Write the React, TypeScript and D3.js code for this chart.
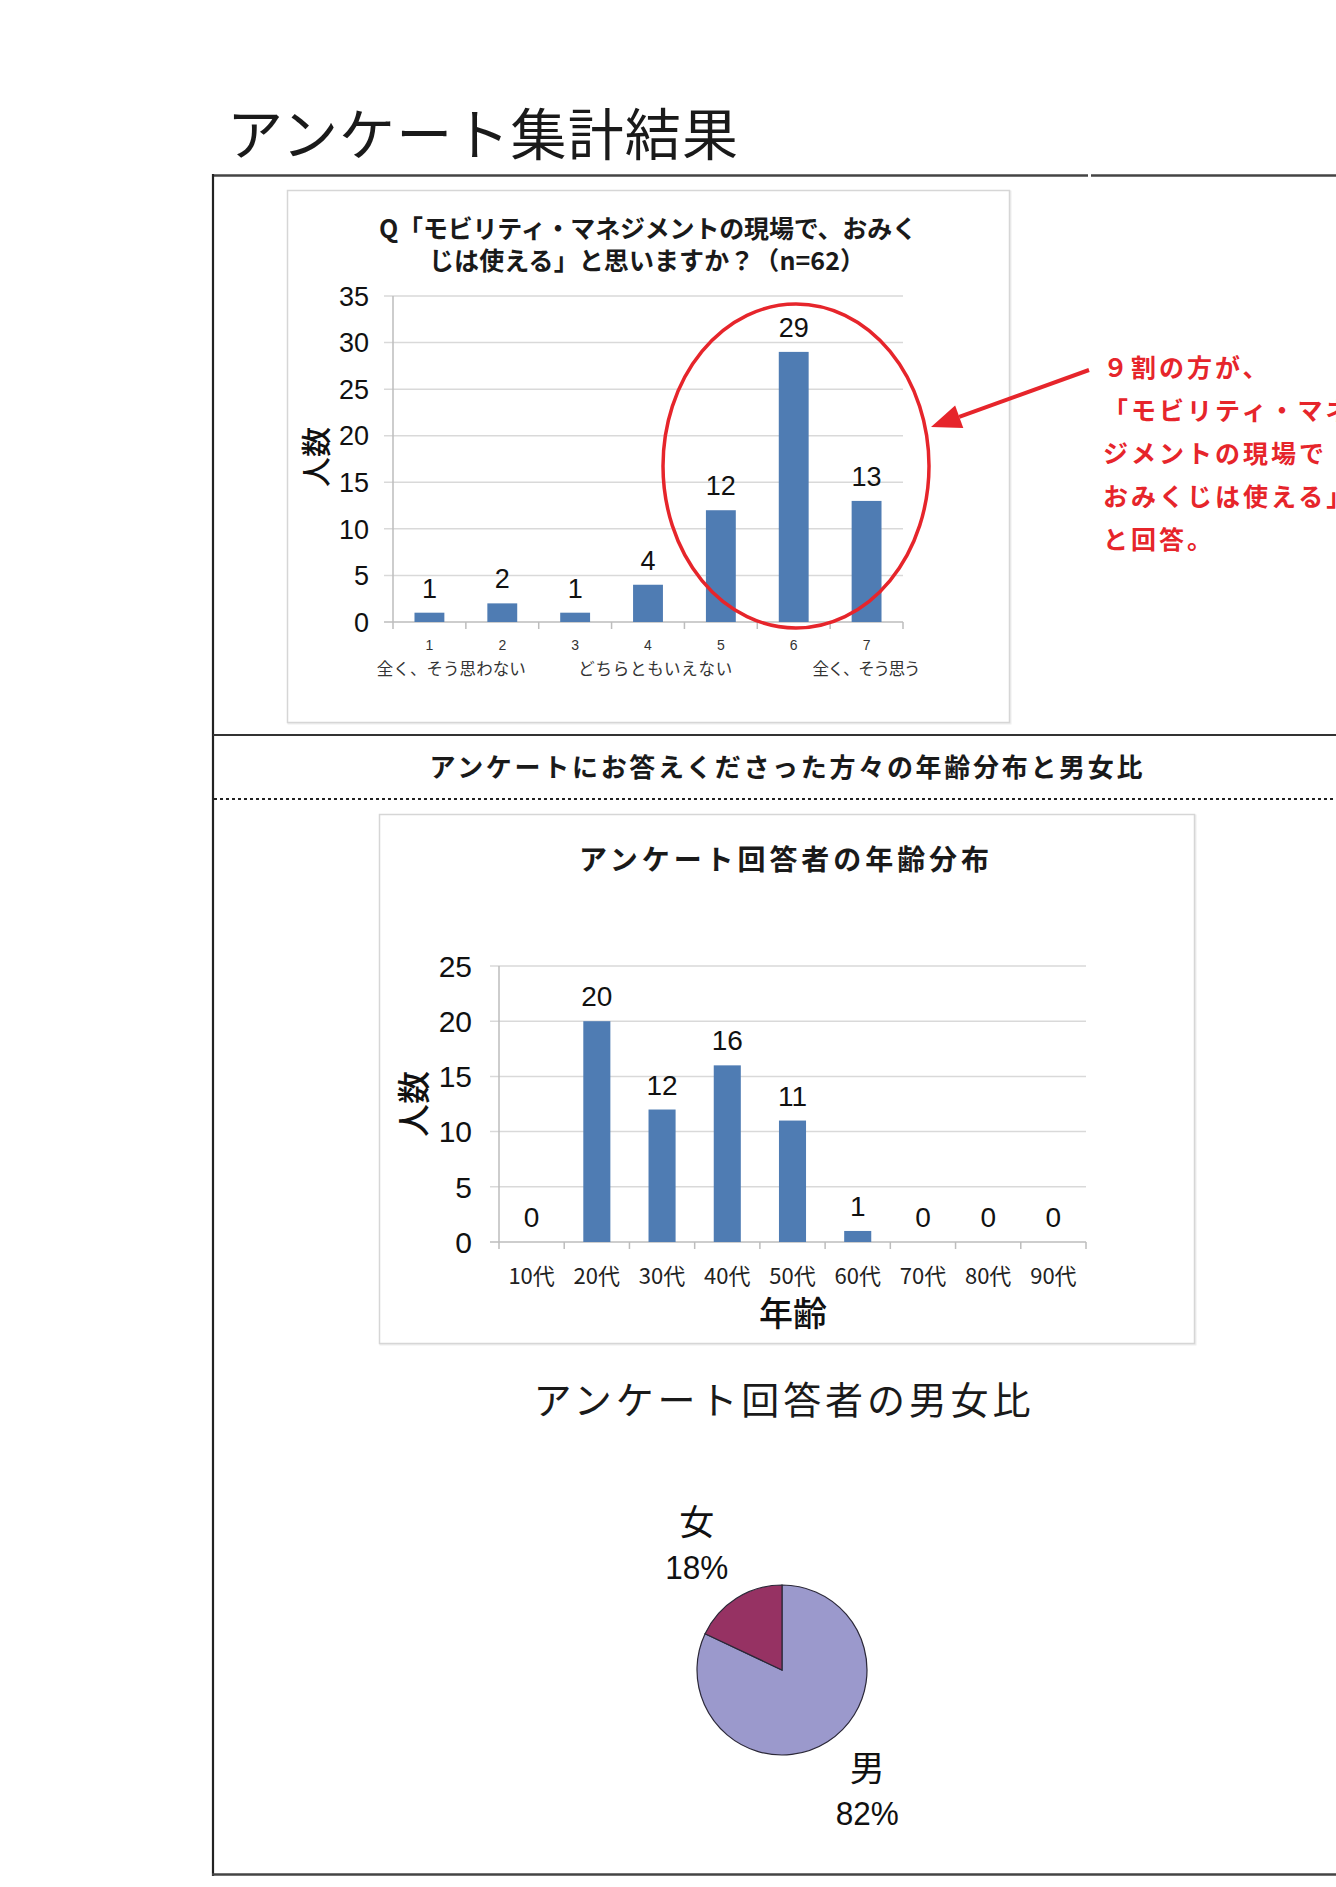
import React from 'react';
import * as d3 from 'd3';

const q1Categories = ['1', '2', '3', '4', '5', '6', '7'];
const q1Values = [1, 2, 1, 4, 12, 29, 13];
const q1YTicks = [0, 5, 10, 15, 20, 25, 30, 35];
const q1ScaleLabels = ['全く、そう思わない', 'どちらともいえない', '全く、そう思う'];
const q1TitleLines = ['Q「モビリティ・マネジメントの現場で、おみく', 'じは使える」と思いますか？（n=62）'];
const noteLines = ['９割の方が、', '「モビリティ・マネ', 'ジメントの現場で', 'おみくじは使える」', 'と回答。'];

const ageCategories = ['10代', '20代', '30代', '40代', '50代', '60代', '70代', '80代', '90代'];
const ageValues = [0, 20, 12, 16, 11, 1, 0, 0, 0];
const ageYTicks = [0, 5, 10, 15, 20, 25];

const genderLabels = ['男', '女'];
const genderValues = [82, 18];

const JP = "'Noto Sans CJK JP', 'Noto Sans', sans-serif";
const NUM = "'Liberation Sans', Arial, sans-serif";
const BAR = '#4f7cb3';
const GRID = '#d9d9d9';
const AXIS = '#bdbdbd';
const RED = '#e6252b';

function BarChart(props: {
  cats: string[]; vals: number[]; ticks: number[];
  x0: number; x1: number; y0: number; y1: number; max: number;
  tickFont: number; valFont: number; catFont: number; catY: number; catFill: string; catFamily: string;
  barRatio: number; tickRight: number;
}) {
  const { cats, vals, ticks, x0, x1, y0, y1, max } = props;
  const x = d3.scaleBand<string>().domain(cats).range([x0, x1]).padding(0);
  const y = d3.scaleLinear().domain([0, max]).range([y0, y1]);
  const step = x.step();
  const bw = step * props.barRatio;
  return (
    <g>
      {ticks.map((t) => (
        <g key={'g' + t}>
          <line x1={x0 - 9} x2={x1} y1={y(t)} y2={y(t)} stroke={t === 0 ? AXIS : GRID} strokeWidth={1.5} />
          <text x={props.tickRight} y={y(t)} dy="0.36em" textAnchor="end" fontFamily={NUM} fontSize={props.tickFont} fill="#111">{t}</text>
        </g>
      ))}
      <line x1={x0} x2={x0} y1={y(max)} y2={y(0)} stroke={AXIS} strokeWidth={1.5} />
      {d3.range(cats.length + 1).map((i) => (
        <line key={'tk' + i} x1={x0 + i * step} x2={x0 + i * step} y1={y(0)} y2={y(0) + 7} stroke={AXIS} strokeWidth={1.5} />
      ))}
      {cats.map((c, i) => {
        const cx = (x(c) as number) + step / 2;
        return (
          <g key={'b' + c}>
            <rect x={cx - bw / 2} y={y(vals[i])} width={bw} height={y(0) - y(vals[i])} fill={BAR} />
            <text x={cx} y={y(vals[i]) - 15} textAnchor="middle" fontFamily={NUM} fontSize={props.valFont} fill="#111">{vals[i]}</text>
            <text x={cx} y={props.catY} dy="0.36em" textAnchor="middle" fontFamily={props.catFamily} fontSize={props.catFont} fill={props.catFill}>{c}</text>
          </g>
        );
      })}
    </g>
  );
}

export default function App() {
  // chart 1 layout
  const c1 = { x0: 393, x1: 903, y0: 622, y1: 296 };
  const q1x = d3.scaleBand<string>().domain(q1Categories).range([c1.x0, c1.x1]);
  const q1step = q1x.step();

  // ellipse around the top answers (5..7)
  const ell = { cx: 796, cy: 466, rx: 133, ry: 162 };
  // arrow from note to ellipse right edge
  const tip = { x: ell.cx + ell.rx + 2, y: 427 };
  const tail = { x: 1089, y: 370 };
  const ang = Math.atan2(tail.y - tip.y, tail.x - tip.x);
  const headLen = 30, headW = 12;
  const bx = tip.x + Math.cos(ang) * headLen, by = tip.y + Math.sin(ang) * headLen;
  const px = -Math.sin(ang) * headW, py = Math.cos(ang) * headW;

  // pie
  const pieC = { x: 782, y: 1670, r: 85 };
  const pie = d3.pie<number>().sort(null).value((d) => d);
  const arcs = pie(genderValues);
  const arc = d3.arc<d3.PieArcDatum<number>>().innerRadius(0).outerRadius(pieC.r);
  const labelArc = d3.arc<d3.PieArcDatum<number>>().innerRadius(146).outerRadius(146);
  const pieColors = ['#9b99cc', '#963263'];
  const total = d3.sum(genderValues);

  return (
    <svg width={1336} height={1887} style={{ position: 'absolute', left: 0, top: 0, background: '#fff' }}>
      <rect x={0} y={0} width={1336} height={1887} fill="#fff" />
      {/* page title */}
      <text x={227} y={155} fontFamily={JP} fontSize={56} fill="#1a1a1a" textLength={511}>アンケート集計結果</text>

      {/* outer frame */}
      <line x1={213} x2={1088} y1={175.5} y2={175.5} stroke="#444" strokeWidth={2.5} />
      <line x1={1091} x2={1336} y1={175.5} y2={175.5} stroke="#444" strokeWidth={2.5} />
      <line x1={213} x2={213} y1={174} y2={1876} stroke="#222" strokeWidth={2.2} />
      <line x1={212} x2={1336} y1={1874.5} y2={1874.5} stroke="#444" strokeWidth={2.5} />
      <line x1={213} x2={1336} y1={735} y2={735} stroke="#333" strokeWidth={2} />
      <line x1={214} x2={1336} y1={799} y2={799} stroke="#222" strokeWidth={2} strokeDasharray="3,3" />

      {/* chart 1 box */}
      <rect x={288.5} y={191.5} width={722} height={532} fill="none" stroke="#eeeeee" strokeWidth={2} />
      <rect x={287.5} y={190.5} width={722} height={532} fill="#fff" stroke="#d6d6d6" strokeWidth={1.5} />
      <text x={648} y={238} textAnchor="middle" fontFamily={JP} fontWeight={700} fontSize={25} fill="#1a1a1a" textLength={538}>{q1TitleLines[0]}</text>
      <text x={647} y={270} textAnchor="middle" fontFamily={JP} fontWeight={700} fontSize={25} fill="#1a1a1a" textLength={436}>{q1TitleLines[1]}</text>
      <text transform="translate(316,457) rotate(-90)" textAnchor="middle" dy="0.36em" fontFamily={JP} fontWeight={500} fontSize={30} fill="#111">人数</text>
      <BarChart cats={q1Categories} vals={q1Values} ticks={q1YTicks} x0={c1.x0} x1={c1.x1} y0={c1.y0} y1={c1.y1} max={35}
        tickFont={27} valFont={27} catFont={14} catY={645} catFill="#333" catFamily={NUM} barRatio={0.41} tickRight={369} />
      <text x={(q1x('1') as number) + q1step * 0.8} y={669} dy="0.36em" textAnchor="middle" fontFamily={JP} fontSize={16.5} fill="#333" textLength={149}>{q1ScaleLabels[0]}</text>
      <text x={(q1x('4') as number) + q1step * 0.6} y={669} dy="0.36em" textAnchor="middle" fontFamily={JP} fontSize={16.5} fill="#333" textLength={154}>{q1ScaleLabels[1]}</text>
      <text x={(q1x('7') as number) + q1step * 0.5} y={669} dy="0.36em" textAnchor="middle" fontFamily={JP} fontSize={16.5} fill="#333" textLength={108}>{q1ScaleLabels[2]}</text>

      {/* red annotation */}
      <ellipse cx={ell.cx} cy={ell.cy} rx={ell.rx} ry={ell.ry} fill="none" stroke={RED} strokeWidth={3.5} />
      <line x1={tail.x} y1={tail.y} x2={bx} y2={by} stroke={RED} strokeWidth={4} />
      <polygon points={`${tip.x},${tip.y} ${bx + px},${by + py} ${bx - px},${by - py}`} fill={RED} />
      {noteLines.map((l, i) => (
        <text key={'n' + i} x={1103} y={377 + i * 43} fontFamily={JP} fontWeight={700} fontSize={25} letterSpacing={3} fill={RED}>{l}</text>
      ))}

      {/* section header */}
      <text x={786} y={777} textAnchor="middle" fontFamily={JP} fontWeight={700} fontSize={26} fill="#1a1a1a" textLength={713}>アンケートにお答えくださった方々の年齢分布と男女比</text>

      {/* chart 2 box */}
      <rect x={380.5} y={815.5} width={815} height={529} fill="none" stroke="#eeeeee" strokeWidth={2} />
      <rect x={379.5} y={814.5} width={815} height={529} fill="#fff" stroke="#d6d6d6" strokeWidth={1.5} />
      <text x={784} y={870} textAnchor="middle" fontFamily={JP} fontWeight={700} fontSize={28} fill="#1a1a1a" textLength={410}>アンケート回答者の年齢分布</text>
      <text transform="translate(414,1104) rotate(-90)" textAnchor="middle" dy="0.36em" fontFamily={JP} fontWeight={500} fontSize={33} fill="#111">人数</text>
      <BarChart cats={ageCategories} vals={ageValues} ticks={ageYTicks} x0={499} x1={1086} y0={1242} y1={966} max={25}
        tickFont={30} valFont={28} catFont={22} catY={1276} catFill="#222" catFamily={JP} barRatio={0.415} tickRight={472} />
      <text x={793} y={1314} dy="0.36em" textAnchor="middle" fontFamily={JP} fontWeight={500} fontSize={34} fill="#111">年齢</text>

      {/* pie */}
      <text x={782} y={1414} textAnchor="middle" fontFamily={JP} fontSize={38} fill="#1a1a1a" textLength={497}>アンケート回答者の男女比</text>
      <g transform={`translate(${pieC.x},${pieC.y})`}>
        {arcs.map((a, i) => (
          <path key={'p' + i} d={arc(a) as string} fill={pieColors[i]} stroke="#2b2838" strokeWidth={1.2} />
        ))}
        {arcs.map((a, i) => {
          const [cxl, ly] = labelArc.centroid(a);
          const lx = cxl * 1.09;
          return (
            <g key={'l' + i}>
              <text x={lx} y={ly + 8 - 20} textAnchor="middle" fontFamily={JP} fontSize={35} fill="#111">{genderLabels[i]}</text>
              <text x={lx} y={ly + 8 + 24} textAnchor="middle" fontFamily={NUM} fontSize={33} fill="#111" textLength={63} lengthAdjust="spacingAndGlyphs">{Math.round((genderValues[i] / total) * 100)}%</text>
            </g>
          );
        })}
      </g>
    </svg>
  );
}
